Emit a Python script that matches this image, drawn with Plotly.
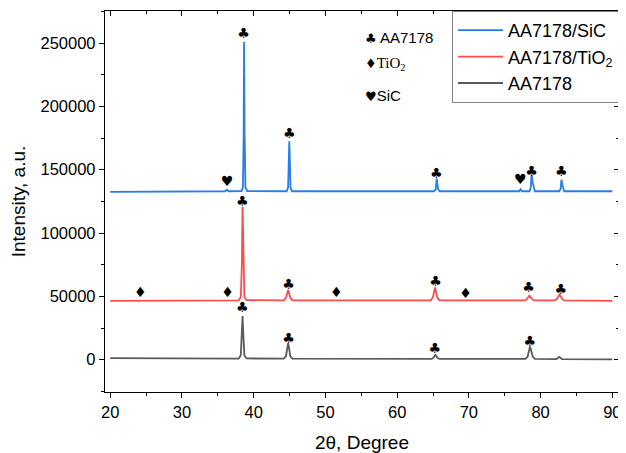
import plotly.graph_objects as go

# ---- data ----
sic_x = [20, 36.0, 36.25, 36.5, 38.3, 38.5, 38.6, 38.66, 38.73, 38.85, 39.1,
         44.6, 44.8, 44.9, 44.96, 45.03, 45.13, 45.35,
         65.15, 65.37, 65.47, 65.52, 65.6, 65.72, 65.95,
         77.0, 77.2, 77.4,
         78.45, 78.63, 78.72, 78.78, 78.88, 79.0, 79.2,
         82.6, 82.8, 82.88, 82.94, 83.02, 83.12, 83.3, 90]
sic_y = [132500, 133000, 134200, 133000, 133200, 136000, 175000, 251000, 180000, 136000, 133200,
         133000, 136000, 162000, 172500, 160000, 136000, 133000,
         133000, 134500, 140000, 143000, 139000, 134500, 133000,
         133000, 134500, 133000,
         133000, 136000, 144500, 145500, 140000, 137000, 133000,
         133000, 135000, 141000, 142000, 138000, 135500, 133000, 133000]

tio2_x = [20, 37.9, 38.2, 38.35, 38.45, 38.55, 38.7, 39.0,
          44.2, 44.5, 44.68, 44.8, 44.92, 45.1, 45.4,
          64.7, 65.0, 65.15, 65.28, 65.4, 65.6, 65.9,
          77.8, 78.1, 78.3, 78.42, 78.55, 78.8, 79.1,
          82.0, 82.3, 82.5, 82.62, 82.75, 83.0, 83.3, 90]
tio2_y = [46500, 46800, 49500, 75000, 120500, 78000, 49500, 47000,
          46800, 49000, 53500, 55000, 53000, 49000, 46800,
          46800, 49500, 54500, 57000, 54000, 49000, 46800,
          46800, 48000, 50000, 50600, 49800, 47800, 46800,
          46800, 48200, 50800, 51400, 50300, 48000, 46800, 46500]

base_x = [20, 37.9, 38.2, 38.35, 38.45, 38.55, 38.7, 39.0,
          44.2, 44.5, 44.68, 44.8, 44.92, 45.1, 45.4,
          64.8, 65.05, 65.2, 65.32, 65.45, 65.6, 65.9,
          77.9, 78.2, 78.4, 78.52, 78.65, 78.9, 79.2,
          82.2, 82.45, 82.6, 82.75, 83.0, 90]
base_y = [1200, 800, 3500, 18000, 34500, 20000, 3500, 1000,
          800, 2800, 10000, 13000, 9500, 2800, 800,
          600, 1500, 3000, 3800, 3000, 1500, 600,
          600, 2500, 8000, 10500, 8000, 2500, 600,
          500, 1500, 2200, 1500, 500, 300]

# phase marker labels (symbol centre positions)
club_x = [38.6, 44.95, 65.45, 78.75, 82.9,
          38.42, 44.85, 65.35, 78.3, 82.8,
          38.42, 44.85, 65.25, 78.5]
club_y = [257000, 178000, 146000, 148000, 148000,
          124100, 58700, 60800, 56100, 54800,
          40300, 15800, 8100, 13400]
diamond_x = [24.2, 36.35, 51.5, 69.55]
diamond_y = [52200, 52400, 52600, 51600]
heart_x = [36.3, 77.15]
heart_y = [140000, 141500]

names = ["AA7178/SiC", "AA7178/TiO<sub>2</sub>", "AA7178"]
colors = ["rgb(40,125,230)", "rgb(255,75,75)", "rgb(90,90,90)"]

FONT = "Arial, Liberation Sans, sans-serif"

fig = go.Figure()
for xs, ys, nm, c in [(sic_x, sic_y, names[0], colors[0]),
                      (tio2_x, tio2_y, names[1], colors[1]),
                      (base_x, base_y, names[2], colors[2])]:
    fig.add_trace(go.Scatter(x=xs, y=ys, mode="lines", name=nm,
                             line=dict(color=c, width=1.8), hoverinfo="skip"))

for xs, ys, sym in [(club_x, club_y, "♣"), (diamond_x, diamond_y, "♦"), (heart_x, heart_y, "♥")]:
    fig.add_trace(go.Scatter(x=xs, y=ys, mode="text", text=[sym] * len(xs),
                             textposition="middle center",
                             textfont=dict(family="DejaVu Sans", size=14, color="black"),
                             showlegend=False, hoverinfo="skip"))

# dummy trace for mirrored (inside) ticks on top/right
fig.add_trace(go.Scatter(x=[None], y=[None], xaxis="x2", yaxis="y2",
                         showlegend=False, hoverinfo="skip"))

xr = [19.27, 90.93]
yr = [-25500, 275300]

fig.update_layout(
    width=618, height=445,
    margin=dict(l=97, r=7, t=3, b=61, autoexpand=False),
    paper_bgcolor="white", plot_bgcolor="white",
    font=dict(family=FONT, color="black"),
    showlegend=True,
    legend=dict(x=1, xanchor="right", y=1, yanchor="top", itemwidth=45,
                bordercolor="rgb(130,130,130)", borderwidth=1, bgcolor="white",
                font=dict(size=18, family=FONT), tracegroupgap=0),
    xaxis=dict(range=xr, showgrid=False, zeroline=False, showline=True, automargin=False,
               linecolor="black", linewidth=1.3, mirror=True,
               ticks="outside", ticklen=5, tickwidth=1.3, tickcolor="black",
               tick0=20, dtick=10,
               minor=dict(dtick=5, tick0=20, ticks="outside", ticklen=3, tickcolor="black"),
               tickfont=dict(size=16.5),
               title=dict(text="2θ, Degree", font=dict(size=19), standoff=15)),
    yaxis=dict(range=yr, showgrid=False, zeroline=False, showline=True, automargin=False,
               linecolor="black", linewidth=1.3, mirror=True,
               ticks="outside", ticklen=5, tickwidth=1.3, tickcolor="black",
               tick0=0, dtick=50000, tickformat="d",
               minor=dict(dtick=25000, tick0=0, ticks="outside", ticklen=3, tickcolor="black"),
               tickfont=dict(size=16.5),
               title=dict(text="Intensity, a.u.", font=dict(size=19), standoff=10)),
    xaxis2=dict(range=xr, overlaying="x", side="top", showgrid=False, zeroline=False,
                showline=False, showticklabels=False, automargin=False,
                ticks="inside", ticklen=5, tickwidth=1.3, tickcolor="black",
                tick0=20, dtick=10,
                minor=dict(dtick=5, tick0=20, ticks="inside", ticklen=3, tickcolor="black")),
    yaxis2=dict(range=yr, overlaying="y", side="right", showgrid=False, zeroline=False,
                showline=False, showticklabels=False, automargin=False,
                ticks="inside", ticklen=5, tickwidth=1.3, tickcolor="black",
                tick0=0, dtick=50000,
                minor=dict(dtick=25000, tick0=0, ticks="inside", ticklen=3, tickcolor="black")),
)

# phase key text in the upper middle
key = [("♣", " AA7178", 0.930, FONT), ("♦", "TiO<sub>2</sub>", 0.861, "Liberation Serif, Times New Roman, serif"),
       ("♥", "SiC", 0.777, FONT)]
for sym, txt, yy, fam in key:
    fig.add_annotation(xref="paper", yref="paper", x=0.502, y=yy, xanchor="left", yanchor="middle",
                       text=f"<span style='font-family:DejaVu Sans;font-size:13px'>{sym}</span>"
                            f"<span style='font-family:{fam}'>{txt}</span>",
                       showarrow=False, font=dict(size=15, color="black"))

fig.write_html("out.html")
